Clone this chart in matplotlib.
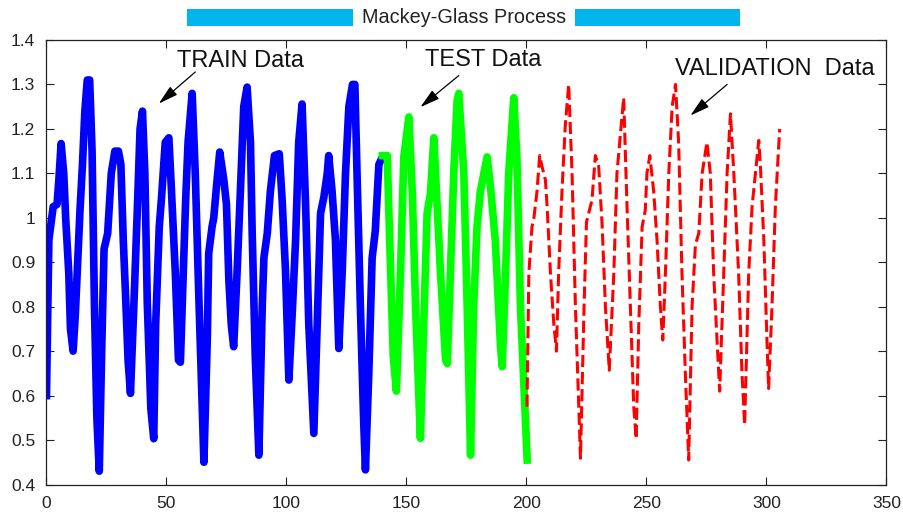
# Mackey-Glass series split into train / test / validation parts
import matplotlib
matplotlib.use('Agg')
import matplotlib.pyplot as plt
from matplotlib.patches import Rectangle

# Values (time step, signal value)
train_x = [0, 1, 2.8, 4.4, 5.1, 6.1, 7.2, 8, 9.3, 10, 11.1, 12, 13, 14, 15, 16, 17, 18, 19, 20,
           21, 22, 23, 24, 25.5, 27, 28.5, 30, 31, 32, 33, 34, 35, 36.5, 38, 39, 40, 41, 42,
           43.5, 44.7, 45.5, 47, 48, 49.5, 51, 52, 53.7, 55, 55.8, 57, 58, 59, 60.7, 62, 63.5,
           64.7, 65.6, 67, 67.6, 69, 69.7, 71, 72.2, 73.9, 75, 76, 77, 78, 79.4, 80.8, 82.2,
           83.6, 85, 85.7, 87, 88.5, 89.9, 90.6, 92, 93.3, 95, 97, 98.2, 99.6, 101, 102.4,
           103.8, 105.1, 106.5, 108, 109.3, 111.4, 112.8, 114.2, 115.6, 117, 117.6, 119,
           120.4, 121.8, 123.2, 124.6, 126, 127.5, 128.5, 129.4, 130.8, 132.2, 132.9, 134.3,
           135.7, 137, 138.5, 140]
train_y = [0.60, 0.95, 1.025, 1.03, 1.08, 1.167, 1.10, 1.0, 0.875, 0.75, 0.70, 0.78, 0.90, 1.02,
           1.12, 1.24, 1.31, 1.31, 1.15, 0.80, 0.55, 0.43, 0.70, 0.93, 0.965, 1.10, 1.15, 1.15,
           1.12, 0.95, 0.82, 0.68, 0.605, 0.815, 1.04, 1.20, 1.24, 1.10, 0.81, 0.57, 0.503,
           0.76, 0.98, 1.05, 1.17, 1.18, 1.07, 0.875, 0.68, 0.675, 0.875, 1.04, 1.17, 1.28,
           1.10, 0.82, 0.61, 0.45, 0.725, 0.92, 0.98, 1.0, 1.08, 1.148, 1.085, 1.03, 0.86, 0.76,
           0.71, 0.875, 1.06, 1.25, 1.294, 1.17, 0.97, 0.687, 0.466, 0.80, 0.91, 0.965, 1.06,
           1.14, 1.144, 1.04, 0.88, 0.635, 0.785, 0.95, 1.17, 1.256, 1.025, 0.76, 0.515, 0.76,
           1.01, 1.047, 1.10, 1.14, 1.06, 0.95, 0.706, 0.875, 1.10, 1.25, 1.30, 1.30, 1.10,
           0.80, 0.537, 0.433, 0.65, 0.91, 0.97, 1.12, 1.137]

test_x = [140, 142, 143, 144.5, 145.8, 147.5, 148.9, 151, 152.4, 153.8, 155.8, 157.2, 158.6,
          160, 161.4, 162.8, 164.2, 166.3, 167, 168.3, 169.7, 171.1, 171.8, 173.9, 175.3,
          176.7, 178, 179.4, 180.8, 183.6, 185, 187, 189.2, 189.9, 191.3, 192.6, 194.7, 196,
          197.5, 200.3]
test_y = [1.14, 1.14, 0.95, 0.688, 0.61, 0.875, 1.137, 1.227, 1.06, 0.80, 0.504, 0.76, 1.01,
          1.055, 1.18, 1.025, 0.875, 0.68, 0.672, 0.875, 1.10, 1.264, 1.28, 1.10, 0.80, 0.466,
          0.80, 0.98, 1.06, 1.137, 1.07, 0.95, 0.71, 0.665, 0.875, 1.10, 1.27, 1.137, 0.80,
          0.455]

valid_x = [200.2, 201, 202.3, 203, 204.4, 205.5, 206.5, 207.9, 208.6, 210, 211.4, 212.5, 213.4,
           214.8, 216.2, 217.6, 219, 220.4, 221.8, 222.5, 224, 225, 227.3, 228.7, 230.1, 231.5,
           232.9, 234.5, 236.4, 237.7, 240.5, 241.9, 243.3, 244.7, 245.7, 246.8, 248.2, 249.5,
           250.2, 251.4, 253, 254.4, 255.8, 256.8, 257.9, 259.3, 260.7, 262.1, 263.4, 264.8,
           266.2, 267.6, 269, 270.4, 271.8, 273.2, 275.2, 276.6, 278, 279.4, 280.5, 282.2,
           283.6, 285, 286.4, 288.4, 289.8, 290.9, 292.6, 294, 295.4, 296.8, 297.5, 298.9,
           300.2, 300.9, 302.3, 303.7, 305.5]
valid_y = [0.575, 0.875, 0.98, 0.995, 1.06, 1.14, 1.115, 1.085, 1.025, 0.875, 0.76, 0.70, 0.875,
           1.06, 1.21, 1.30, 1.10, 0.80, 0.575, 0.459, 0.80, 0.99, 1.04, 1.14, 1.115, 0.987,
           0.80, 0.657, 0.875, 1.10, 1.27, 1.025, 0.80, 0.575, 0.503, 0.76, 0.98, 1.017, 1.10,
           1.14, 1.06, 0.95, 0.80, 0.725, 0.875, 1.10, 1.25, 1.30, 1.17, 0.875, 0.65, 0.455,
           0.80, 0.94, 0.965, 1.10, 1.17, 1.10, 0.875, 0.725, 0.61, 0.875, 1.10, 1.234, 1.10,
           0.875, 0.65, 0.534, 0.875, 1.025, 1.10, 1.174, 1.115, 0.95, 0.725, 0.616, 0.80,
           1.025, 1.20]

x_ticks = [0, 50, 100, 150, 200, 250, 300, 350]
y_ticks = [0.4, 0.5, 0.6, 0.7, 0.8, 0.9, 1, 1.1, 1.2, 1.3, 1.4]
y_tick_labels = ['0.4', '0.5', '0.6', '0.7', '0.8', '0.9', '1', '1.1', '1.2', '1.3', '1.4']

plt.rcParams['font.family'] = ['Liberation Sans', 'DejaVu Sans']

fig = plt.figure(figsize=(9.04, 5.12), dpi=100)
ax = fig.add_axes([0.0514, 0.0537, 0.9292, 0.8682])

# the three parts of the series (round joins so the thick peaks don't spike)
ax.plot(train_x, train_y, color='#0000FF', lw=5.5, solid_joinstyle='round')
ax.plot(test_x, test_y, color='#00FF00', lw=5.5, solid_joinstyle='round')
ax.plot(valid_x, valid_y, color='#FF0000', lw=2.2, linestyle=(0, (4, 1.6)),
        dash_joinstyle='round', dash_capstyle='butt')

ax.set_xlim(0, 350)
ax.set_ylim(0.4, 1.4)
ax.set_xticks(x_ticks)
ax.set_yticks(y_ticks)
ax.set_yticklabels(y_tick_labels)
ax.tick_params(direction='in', length=6, width=0.8, top=True, right=True,
               labelsize=12.5, pad=8, colors='#222222')
for sp in ax.spines.values():
    sp.set_linewidth(0.9)
    sp.set_color('#222222')

# text labels with arrows
arrow_kw = dict(arrowstyle='-|>,head_length=0.8,head_width=0.22', color='black',
                lw=0.9, mutation_scale=15, shrinkA=0, shrinkB=0)
ax.text(54.4, 1.352, 'TRAIN Data', fontsize=17, va='center', ha='left', color='#111111')
ax.annotate('', xy=(46.8, 1.257), xytext=(62, 1.328), arrowprops=arrow_kw)
ax.text(157.9, 1.354, 'TEST Data', fontsize=17, va='center', ha='left', color='#111111')
ax.annotate('', xy=(155.8, 1.249), xytext=(171.8, 1.32), arrowprops=arrow_kw)
ax.text(262, 1.335, 'VALIDATION  Data', fontsize=17, va='center', ha='left', color='#111111')
ax.annotate('', xy=(268.3, 1.23), xytext=(283.6, 1.30), arrowprops=arrow_kw)

# title with the cyan bars on both sides
bar_color = '#00B4EE'
fig.add_artist(Rectangle((0.2065, 0.9492), 0.1836, 0.0326, transform=fig.transFigure,
                         facecolor=bar_color, edgecolor='none'))
fig.add_artist(Rectangle((0.636, 0.9492), 0.1825, 0.0326, transform=fig.transFigure,
                         facecolor=bar_color, edgecolor='none'))
fig.text(0.513, 0.966, 'Mackey-Glass Process', fontsize=14.3, ha='center', va='center',
         color='#222222')

fig.savefig('out.png', dpi=100)
